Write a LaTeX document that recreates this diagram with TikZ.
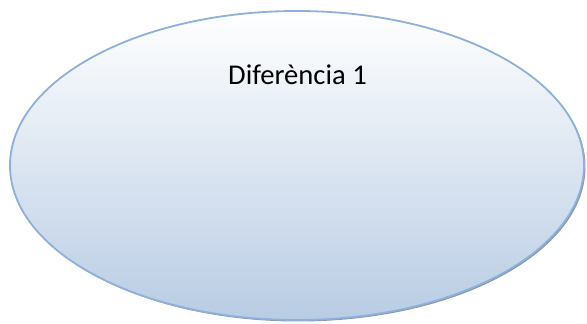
\documentclass[tikz,border=0pt]{standalone}
\usepackage{fontspec}
\setmainfont{Carlito}
\definecolor{edgeblue}{RGB}{142,176,218}
\definecolor{bottomblue}{RGB}{184,204,228}
\definecolor{shadowgrey}{RGB}{136,150,172}
\begin{document}
\begin{tikzpicture}
\useasboundingbox (0pt, 0pt) rectangle (587pt, 324pt);
\fill[color=shadowgrey] (298.5pt, 157pt) ellipse (287pt and 154.5pt);
\shade[top color=white, bottom color=bottomblue, draw=edgeblue, line width=1.8pt] (297pt, 158.5pt) ellipse (287pt and 154.5pt);
\node[anchor=base, inner sep=0pt, font=\fontsize{28.6pt}{32pt}\selectfont] (diff) at (297.5pt, 239.5pt) {Diferència 1};
\end{tikzpicture}
\end{document}
